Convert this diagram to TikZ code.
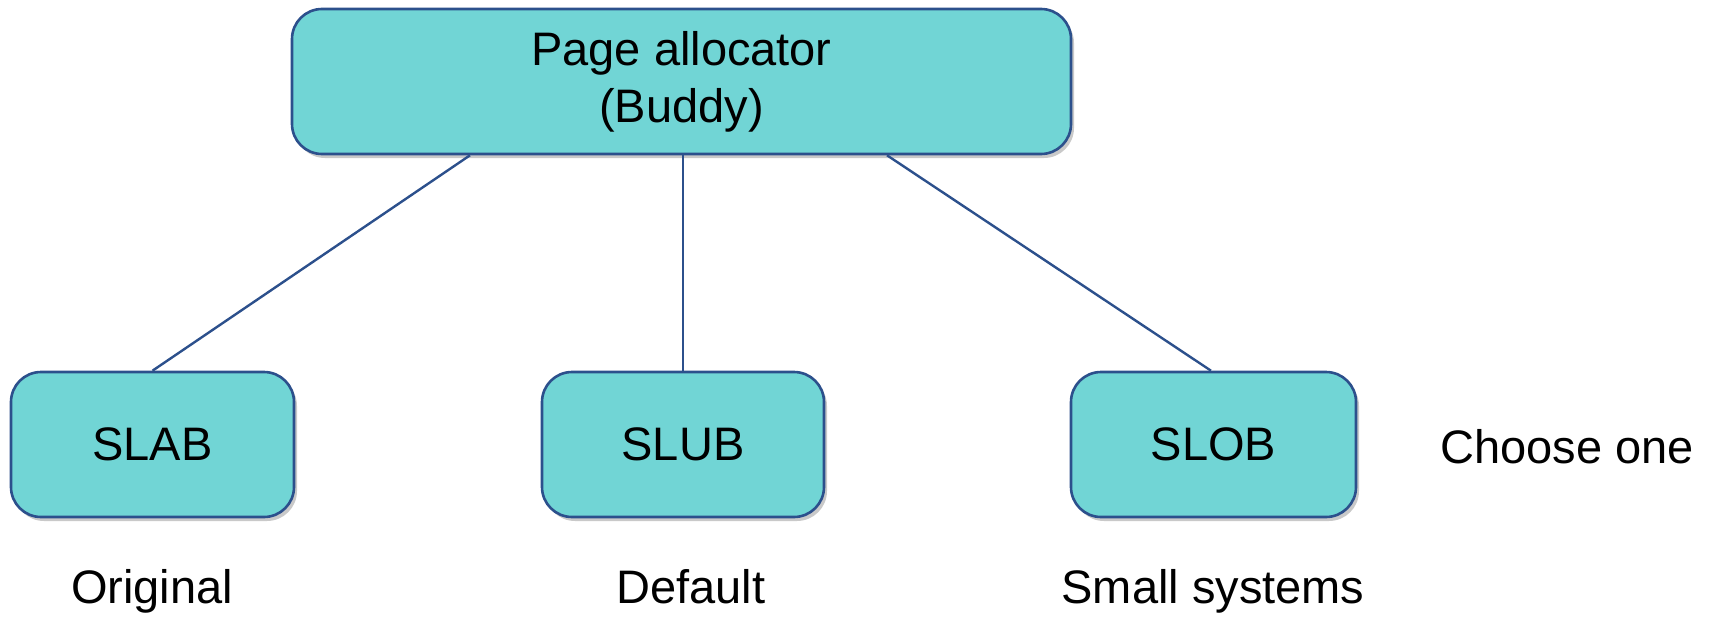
\documentclass[tikz,border=0pt]{standalone}
\usepackage{fontspec}
\setmainfont{Liberation Sans}
\usetikzlibrary{calc,shadows}
\definecolor{boxfill}{RGB}{113,213,213}
\definecolor{boxline}{RGB}{44,80,140}
\tikzset{
  box/.style={draw=boxline, line width=2.6pt, fill=boxfill, rounded corners=30pt,
    minimum height=145pt, align=center, inner sep=0pt,
    font=\fontsize{47}{57}\selectfont,
    drop shadow={shadow xshift=3pt, shadow yshift=-4pt, opacity=0.3, fill=black!70}},
  lbl/.style={inner sep=0pt, font=\fontsize{47}{57}\selectfont},
  conn/.style={draw=boxline, line width=2.4pt}
}
\begin{document}
\begin{tikzpicture}[x=1pt, y=-1pt]
\useasboundingbox (0,0) rectangle (1713,618);
\node[box, minimum width=779pt] (top) at (681.5,81.5) {Page allocator\\(Buddy)};
\node[box, minimum width=283pt] (slab) at (152.5,444.5) {SLAB};
\node[box, minimum width=282pt] (slub) at (683,444.5) {SLUB};
\node[box, minimum width=285pt] (slob) at (1213.5,444.5) {SLOB};
\coordinate (tl) at ($(top.south)+(-211.5,0)$);
\coordinate (tr) at ($(top.south)+(205.5,0)$);
\coordinate (sr) at ($(slob.north)+(-2.5,0)$);
\draw[conn] (tl) -- (slab.north);
\draw[conn] (top.south -| slub.north) -- (slub.north);
\draw[conn] (tr) -- (sr);
\node[lbl, anchor=base] (orig) at (152,603) {Original};
\node[lbl, anchor=base] (def) at (691,603) {Default};
\node[lbl, anchor=base] (small) at (1213,603) {Small systems};
\node[lbl, anchor=base west] (choose) at (1440,463) {Choose one};
\end{tikzpicture}
\end{document}
